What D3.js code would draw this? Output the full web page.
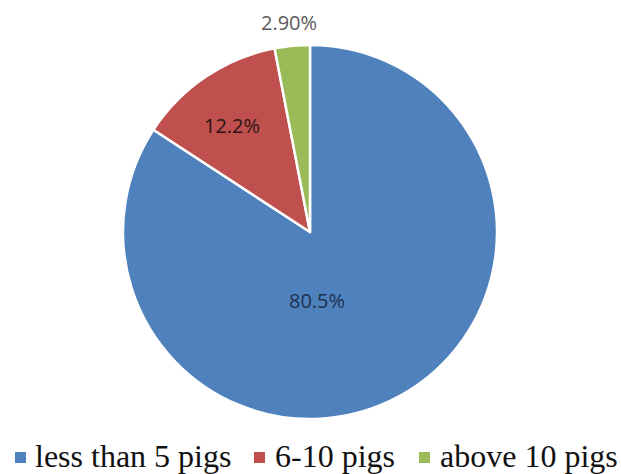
<!DOCTYPE html>
<html>
<head>
<meta charset="utf-8">
<script src="https://cdn.jsdelivr.net/npm/d3@7"></script>
<style>
  body { margin: 0; background: #fff; }
  svg { display: block; }
</style>
</head>
<body>
<div id="chart"></div>
<script>
const categories = ["less than 5 pigs", "6-10 pigs", "above 10 pigs"];
const values = [80.5, 12.2, 2.9];
const labels = ["80.5%", "12.2%", "2.90%"];
const colors = ["#4F81BD", "#C0504D", "#9BBB59"];
const labelColors = ["#1d3150", "#2a1414", "#595959"];

const width = 621, height = 474;
const cx = 310, cy = 232, r = 187;
// label placement relative to pie centre (Excel-style, hand-tuned)
const labelOffsets = [[7, 68], [-78, -107], [-21, -210]];
const legendSq = [15, 254, 419];
const legendTx = [35, 275, 440];

const svg = d3.select("#chart").append("svg")
    .attr("width", width)
    .attr("height", height);

const data = categories.map((c, i) => ({
    name: c, value: values[i], label: labels[i],
    color: colors[i], labelColor: labelColors[i], offset: labelOffsets[i]
}));

const pie = d3.pie().sort(null).value(d => d.value);
const arcs = pie(data);
const arc = d3.arc().innerRadius(0).outerRadius(r);

const g = svg.append("g").attr("transform", `translate(${cx},${cy})`);

g.selectAll("path")
    .data(arcs)
    .join("path")
    .attr("d", arc)
    .attr("fill", d => d.data.color)
    .attr("stroke", "#fff")
    .attr("stroke-width", 2.5)
    .attr("stroke-linejoin", "round");

g.selectAll("text")
    .data(arcs)
    .join("text")
    .attr("x", d => d.data.offset[0])
    .attr("y", d => d.data.offset[1])
    .attr("text-anchor", "middle")
    .attr("dominant-baseline", "central")
    .style("font-family", "Open Sans")
    .attr("font-size", 20)
    .attr("fill", d => d.data.labelColor)
    .text(d => d.data.label);

// legend, drawn straight onto the svg
svg.selectAll("rect")
    .data(data)
    .join("rect")
    .attr("x", (d, i) => legendSq[i])
    .attr("y", 452)
    .attr("width", 11).attr("height", 11)
    .attr("fill", d => d.color);

data.forEach((d, i) => {
    svg.append("text")
        .attr("x", legendTx[i])
        .attr("y", 467)
        .attr("font-size", 32)
        .attr("fill", "#111")
        .style("font-family", "Liberation Serif")
        .text(d.name);
});
</script>
</body>
</html>
